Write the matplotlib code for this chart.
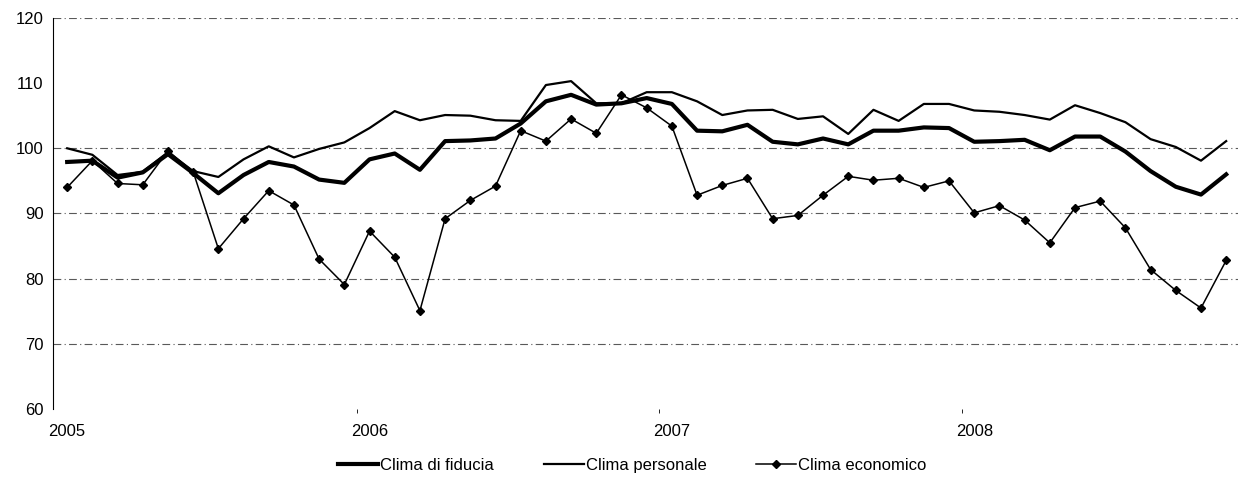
import numpy as np
import matplotlib.pyplot as plt

plt.rcParams['font.family'] = ['Liberation Sans', 'DejaVu Sans']

# Mesi da gennaio 2005 a novembre 2008
anni = ['2005', '2006', '2007', '2008']

clima_fiducia = [97.9, 98.1, 95.5, 96.3, 99.1, 96.2, 93.1, 95.9, 97.9, 97.2, 95.2, 94.7,
                 98.3, 99.2, 96.7, 101.1, 101.2, 101.5, 103.8, 107.2, 108.2, 106.7, 106.9, 107.7,
                 106.8, 102.7, 102.6, 103.6, 101.0, 100.6, 101.5, 100.6, 102.7, 102.7, 103.2, 103.1,
                 101.0, 101.1, 101.3, 99.7, 101.8, 101.8, 99.5, 96.5, 94.1, 92.9, 96.0]

clima_personale = [100.0, 99.0, 95.9, 96.4, 99.4, 96.5, 95.6, 98.3, 100.3, 98.6, 99.9, 100.9,
                   103.1, 105.7, 104.3, 105.1, 105.0, 104.3, 104.2, 109.7, 110.3, 106.9, 106.9, 108.6,
                   108.6, 107.2, 105.1, 105.8, 105.9, 104.5, 104.9, 102.2, 105.9, 104.2, 106.8, 106.8,
                   105.8, 105.6, 105.1, 104.4, 106.6, 105.4, 104.0, 101.4, 100.2, 98.1, 101.1]

clima_economico = [94.0, 98.1, 94.6, 94.4, 99.6, 96.4, 84.6, 89.2, 93.5, 91.3, 83.0, 79.1,
                   87.3, 83.3, 75.1, 89.2, 92.0, 94.2, 102.7, 101.1, 104.5, 102.3, 108.2, 106.2,
                   103.4, 92.8, 94.3, 95.4, 89.2, 89.7, 92.8, 95.7, 95.1, 95.4, 94.0, 95.0,
                   90.1, 91.2, 89.0, 85.5, 90.9, 91.9, 87.8, 81.4, 78.2, 75.5, 82.8]

x = np.arange(len(clima_fiducia))

fig = plt.figure(figsize=(12.4, 4.83), dpi=100)
ax = fig.add_axes([0.043, 0.153, 0.955, 0.81])

# linee orizzontali tratteggiate
for yv in [70, 80, 90, 100, 120]:
    ax.axhline(yv, color='0.35', lw=0.8, ls=(0, (7, 3, 1, 3)), zorder=1)

ax.plot(x, clima_fiducia, color='black', lw=3.0, label='Clima di fiducia', zorder=3)
ax.plot(x, clima_personale, color='black', lw=1.6, label='Clima personale', zorder=3)
ax.plot(x, clima_economico, color='black', lw=1.1, marker='D', markersize=4.5,
        label='Clima economico', zorder=4)

ax.set_xlim(-0.55, 46.45)
ax.set_ylim(60, 120)
ax.set_yticks(range(60, 121, 10))
ax.set_xticks([0, 12, 24, 36])
ax.set_xticklabels(anni)
ax.set_xticks(np.array([12, 24, 36]) - 0.5, minor=True)
ax.tick_params(axis='x', which='major', length=0, pad=11, labelsize=12)
ax.tick_params(axis='x', which='minor', length=3, width=0.6)
ax.tick_params(axis='y', length=0, pad=7, labelsize=12)

for s in ['top', 'right', 'bottom']:
    ax.spines[s].set_visible(False)
ax.spines['left'].set_linewidth(0.8)

fig.legend(*ax.get_legend_handles_labels(), loc='center', bbox_to_anchor=(0.51, 0.037),
           ncol=3, frameon=False, fontsize=12, handlelength=2.4, handletextpad=0.1,
           columnspacing=3.0)

fig.savefig('out.png', dpi=100)
